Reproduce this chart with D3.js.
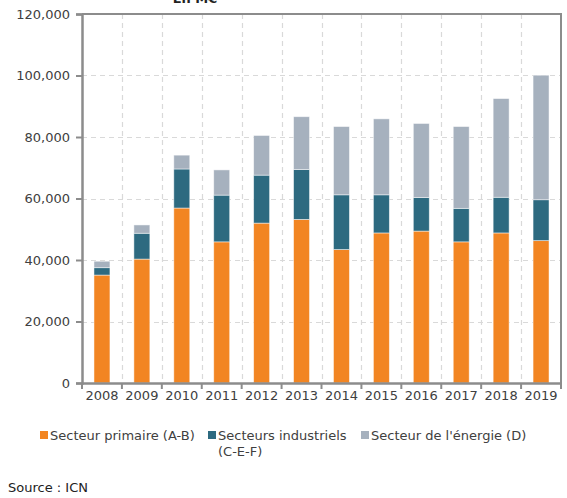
<!DOCTYPE html>
<html>
<head>
<meta charset="utf-8">
<script src="https://cdn.jsdelivr.net/npm/d3@7"></script>
<style>
  body { margin: 0; background: #fff; }
  svg { display: block; font-family: "DejaVu Sans", sans-serif; }
</style>
</head>
<body>
<svg id="chart" width="567" height="498"></svg>
<script>
const years = ['2008', '2009', '2010', '2011', '2012', '2013', '2014', '2015', '2016', '2017', '2018', '2019'];
const primaire = [35100, 40300, 56900, 45900, 52000, 53200, 43400, 48800, 49400, 45900, 48800, 46300];
const industriels = [2400, 8400, 12700, 15200, 15600, 16200, 17800, 12400, 10900, 10900, 11600, 13300];
const energie = [2100, 2700, 4500, 8200, 12900, 17200, 22200, 24700, 24100, 26600, 32100, 40500];
const seriesNames = ['Secteur primaire (A-B)', 'Secteurs industriels', "Secteur de l'énergie (D)"];
const colors = ['#f28522', '#2d6a80', '#a6b1be'];
const yTicks = [0, 20000, 40000, 60000, 80000, 100000, 120000];

const svg = d3.select('#chart');
const plotLeft = 82, plotRight = 561, plotTop = 14, plotBottom = 383;
const textColor = '#404040';
const axisColor = '#8c8c8c';

const x = d3.scaleBand().domain(years).range([plotLeft, plotRight])
  .paddingInner(0.6).paddingOuter(0.3);
const y = d3.scaleLinear().domain([0, 120000]).range([plotBottom, plotTop]);
const step = x.step();

// title, cut off by the top edge
svg.append('text')
  .attr('x', 195).attr('y', 3)
  .attr('text-anchor', 'middle')
  .attr('font-size', 13).attr('font-weight', 'bold')
  .attr('fill', '#222')
  .text('En M€');

// grid
const grid = svg.append('g')
  .attr('stroke', '#d9d9d9').attr('stroke-width', 1.2).attr('stroke-dasharray', '5,4');
grid.selectAll('.h').data(yTicks.slice(1, -1)).join('line')
  .attr('x1', plotLeft).attr('x2', plotRight)
  .attr('y1', (d) => Math.round(y(d)) + 0.5).attr('y2', (d) => Math.round(y(d)) + 0.5);
grid.selectAll('.v').data(d3.range(1, years.length)).join('line')
  .attr('x1', (i) => Math.round(plotLeft + i * step) + 0.5).attr('x2', (i) => Math.round(plotLeft + i * step) + 0.5)
  .attr('y1', plotTop).attr('y2', plotBottom);

// stacked bars
const rows = years.map((yr, i) => ({ year: yr, a: primaire[i], b: industriels[i], c: energie[i] }));
const stack = d3.stack().keys(['a', 'b', 'c'])(rows);

svg.append('g').selectAll('g').data(stack).join('g')
  .attr('fill', (d, i) => colors[i])
  .selectAll('rect').data((d) => d).join('rect')
  .attr('x', (d) => x(d.data.year))
  .attr('width', x.bandwidth())
  .attr('y', (d) => y(d[1]))
  .attr('height', (d) => y(d[0]) - y(d[1]))
  .attr('stroke', '#fff').attr('stroke-opacity', 0.6).attr('stroke-width', 0.8);

// frame: top and right
svg.append('path')
  .attr('d', `M${plotLeft},${plotTop}H${plotRight}V${plotBottom}`)
  .attr('fill', 'none').attr('stroke', axisColor).attr('stroke-width', 2);

// y axis
const yAxis = svg.append('g')
  .attr('transform', `translate(${plotLeft},0)`)
  .call(d3.axisLeft(y).tickValues(yTicks).tickSize(6).tickPadding(6).tickFormat(d3.format(',')));
yAxis.select('.domain').attr('stroke', axisColor).attr('stroke-width', 2.5);
yAxis.selectAll('.tick line').attr('stroke', axisColor).attr('stroke-width', 2);
yAxis.selectAll('.tick text').attr('fill', textColor).attr('font-size', 13)
  .attr('font-family', '"DejaVu Sans", sans-serif');

// x axis
const xAxis = svg.append('g')
  .attr('transform', `translate(0,${plotBottom})`)
  .call(d3.axisBottom(x).tickSize(0).tickPadding(8));
xAxis.select('.domain').attr('stroke', axisColor).attr('stroke-width', 2.5);
xAxis.selectAll('.tick text').attr('fill', textColor).attr('font-size', 13)
  .attr('font-family', '"DejaVu Sans", sans-serif');
xAxis.selectAll('.bt').data(d3.range(0, years.length + 1)).join('line')
  .attr('x1', (i) => plotLeft + i * step).attr('x2', (i) => plotLeft + i * step)
  .attr('y1', 0).attr('y2', 6)
  .attr('stroke', axisColor).attr('stroke-width', 2);

// legend
const legendItems = [
  { x: 40, lines: [seriesNames[0]] },
  { x: 208, lines: [seriesNames[1], '(C-E-F)'] },
  { x: 361, lines: [seriesNames[2]] },
];
const legend = svg.append('g');
legendItems.forEach((item, i) => {
  legend.append('rect')
    .attr('x', item.x).attr('y', 431).attr('width', 8).attr('height', 8)
    .attr('fill', colors[i]);
  item.lines.forEach((line, j) => {
    legend.append('text')
      .attr('x', item.x + 10).attr('y', 440 + j * 16)
      .attr('font-size', 13).attr('fill', textColor)
      .text(line);
  });
});

svg.append('text')
  .attr('x', 8).attr('y', 492)
  .attr('font-size', 13).attr('fill', '#222')
  .text('Source : ICN');
</script>
</body>
</html>
